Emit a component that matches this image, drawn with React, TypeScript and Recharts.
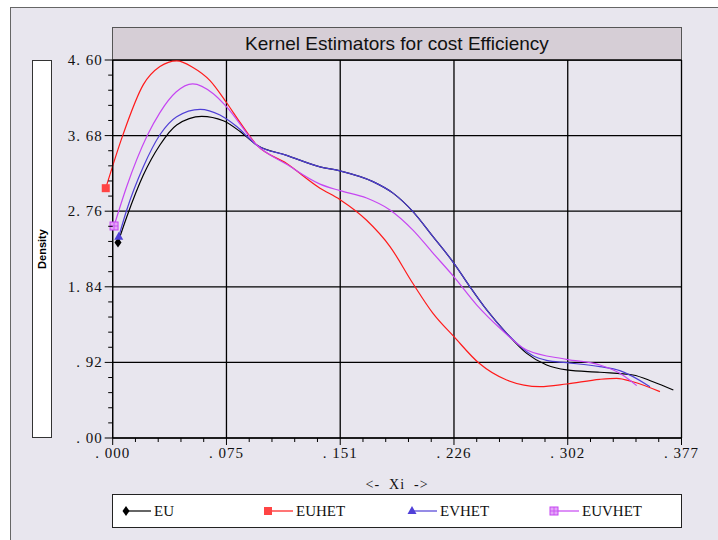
import React from 'react';
import { LineChart, Line, XAxis, YAxis, ReferenceLine } from 'recharts';

// kernel density estimates
const euX = [0.0035, 0.0093, 0.0203, 0.0313, 0.0424, 0.059, 0.0733, 0.0844, 0.0954, 0.1153, 0.1374, 0.1507, 0.1725, 0.1858, 0.199, 0.2123, 0.2262, 0.2368, 0.2479, 0.2611, 0.2744, 0.2876, 0.3009, 0.3229, 0.3448, 0.3581, 0.3716];
const euY = [2.38, 2.69, 3.2, 3.566, 3.81, 3.915, 3.86, 3.73, 3.566, 3.44, 3.3, 3.25, 3.12, 2.98, 2.755, 2.45, 2.126, 1.84, 1.558, 1.274, 1.03, 0.888, 0.828, 0.8, 0.767, 0.685, 0.584];

const euhetX = [-0.0046, 0.0066, 0.0203, 0.0313, 0.0425, 0.0532, 0.0645, 0.0755, 0.0844, 0.0954, 0.1153, 0.1374, 0.1507, 0.1683, 0.1838, 0.199, 0.2123, 0.2262, 0.2429, 0.2611, 0.2832, 0.3009, 0.3229, 0.334, 0.3448, 0.3627];
const euhetY = [3.04, 3.68, 4.3, 4.52, 4.59, 4.51, 4.35, 4.08, 3.84, 3.566, 3.34, 3.04, 2.9, 2.65, 2.33, 1.88, 1.517, 1.233, 0.909, 0.706, 0.625, 0.657, 0.714, 0.726, 0.685, 0.564];

const evhetX = [0.004, 0.0093, 0.0203, 0.0313, 0.0424, 0.058, 0.0711, 0.0822, 0.0954, 0.1153, 0.1374, 0.1507, 0.1725, 0.1858, 0.199, 0.2123, 0.2262, 0.2368, 0.2479, 0.2611, 0.2786, 0.2876, 0.3009, 0.3229, 0.3361, 0.3561];
const evhetY = [2.45, 2.775, 3.3, 3.69, 3.91, 4.0, 3.93, 3.79, 3.566, 3.44, 3.3, 3.25, 3.12, 2.98, 2.755, 2.45, 2.126, 1.84, 1.558, 1.274, 1.0, 0.945, 0.917, 0.868, 0.82, 0.625];

const euvhetX = [0.0009, 0.0093, 0.0229, 0.0313, 0.042, 0.053, 0.0667, 0.0755, 0.0954, 0.1153, 0.1374, 0.1507, 0.1683, 0.1838, 0.199, 0.2123, 0.2262, 0.2412, 0.2567, 0.2744, 0.3009, 0.3229, 0.3361, 0.3473];
const euvhetY = [2.58, 3.06, 3.68, 3.96, 4.21, 4.31, 4.19, 4.03, 3.566, 3.33, 3.09, 3.01, 2.92, 2.775, 2.53, 2.25, 1.96, 1.62, 1.335, 1.071, 0.957, 0.888, 0.787, 0.637];

const xMajor = [0, 0.0754, 0.1508, 0.2262, 0.3016, 0.377];
const xLabels = ['. 000', '. 075', '. 151', '. 226', '. 302', '. 377'];
const yMajor = [0, 0.92, 1.84, 2.76, 3.68, 4.6];
const yLabels = ['. 00', '. 92', '1. 84', '2. 76', '3. 68', '4. 60'];

const seriesNames = ['EU', 'EUHET', 'EVHET', 'EUVHET'];
const colors = ['#000000', '#ff1a1a', '#4f3fd6', '#c646f2'];

const toRows = (xs: number[], ys: number[]) => xs.map((x, i) => ({ x, y: ys[i] }));

// 4 minor ticks between each pair of majors
const withMinor = (major: number[]) => {
  const out: number[] = [];
  for (let i = 0; i < major.length - 1; i++) {
    for (let k = 0; k < 5; k++) out.push(major[i] + ((major[i + 1] - major[i]) * k) / 5);
  }
  out.push(major[major.length - 1]);
  return out;
};
const xTicks = withMinor(xMajor);
const yTicks = withMinor(yMajor);

const tickFont = { fontFamily: '"Liberation Serif", serif', fontSize: 15, letterSpacing: 1, fill: '#111' };

function Marker({ kind, cx, cy }: { kind: number; cx: number; cy: number }) {
  if (kind === 0) {
    return <polygon points={`${cx},${cy - 5} ${cx + 3.5},${cy} ${cx},${cy + 5} ${cx - 3.5},${cy}`} fill="#000" />;
  }
  if (kind === 1) {
    return <rect x={cx - 4} y={cy - 4} width={8} height={8} fill="#ff4444" />;
  }
  if (kind === 2) {
    return <polygon points={`${cx},${cy - 5} ${cx + 4.5},${cy + 3} ${cx - 4.5},${cy + 3}`} fill="#5040d8" />;
  }
  return (
    <g>
      <rect x={cx - 4} y={cy - 4} width={8} height={8} fill="#e4a6f8" stroke="#c646f2" strokeWidth={1} />
      <line x1={cx - 4} y1={cy} x2={cx + 4} y2={cy} stroke="#c646f2" strokeWidth={0.8} />
      <line x1={cx} y1={cy - 4} x2={cx} y2={cy + 4} stroke="#c646f2" strokeWidth={0.8} />
    </g>
  );
}

const firstDot = (kind: number) => (props: any) => {
  const { cx, cy, index } = props;
  if (index !== 0) return <g key={`d${kind}-${index}`} />;
  return (
    <g key={`d${kind}-${index}`}>
      <Marker kind={kind} cx={cx} cy={cy} />
    </g>
  );
};

const XTick = (props: any) => {
  const { x, y, index } = props;
  const major = index % 5 === 0;
  return (
    <g>
      <line x1={x} y1={y} x2={x} y2={y + (major ? 7 : 4)} stroke="#000" />
      {major && (
        <text x={x} y={y + 20} textAnchor="middle" {...tickFont}>
          {xLabels[index / 5]}
        </text>
      )}
    </g>
  );
};

const YTick = (props: any) => {
  const { x, y, index } = props;
  const major = index % 5 === 0;
  return (
    <g>
      <line x1={x} y1={y} x2={x - (major ? 8 : 4.5)} y2={y} stroke="#000" />
      {major && (
        <text x={x - 10} y={y + 5} textAnchor="end" {...tickFont}>
          {yLabels[index / 5]}
        </text>
      )}
    </g>
  );
};

export default function App() {
  const series = [toRows(euX, euY), toRows(euhetX, euhetY), toRows(evhetX, evhetY), toRows(euvhetX, euvhetY)];
  const legendX = [126, 268, 412, 554];

  return (
    <div style={{ position: 'absolute', left: 0, top: 0, width: 718, height: 540, overflow: 'hidden' }}>
      <style>{`.recharts-line-dots, .recharts-line-curve { clip-path: none !important; }`}</style>
      <div style={{ position: 'absolute', left: 10, top: 7, width: 720, height: 540, background: '#e8e6ee', border: '1px solid #666' }} />
      <div
        style={{
          position: 'absolute', left: 112, top: 27, width: 568, height: 32,
          background: '#d6ced6', border: '1px solid #555',
          fontFamily: '"Liberation Sans", Arial, sans-serif', fontSize: 19,
          display: 'flex', alignItems: 'center', justifyContent: 'center', color: '#111',
        }}
      >
        Kernel Estimators for cost Efficiency
      </div>
      <div style={{ position: 'absolute', left: 32, top: 60, width: 18, height: 376, background: '#fff', border: '1px solid #333' }} />
      <div
        style={{
          position: 'absolute', left: 42, top: 249, transform: 'translate(-50%, -50%) rotate(-90deg)',
          fontFamily: '"Liberation Sans", Arial, sans-serif', fontSize: 11, fontWeight: 'bold', color: '#000', whiteSpace: 'nowrap',
        }}
      >
        Density
      </div>

      <div style={{ position: 'absolute', left: 0, top: 0 }}>
        <LineChart width={718} height={540} margin={{ top: 60, right: 36.5, bottom: 72, left: 52.7 }}>
          <XAxis
            type="number"
            dataKey="x"
            domain={[0, 0.377]}
            allowDataOverflow
            ticks={xTicks}
            interval={0}
            tick={<XTick />}
            tickSize={0}
            tickMargin={0}
            tickLine={false}
            axisLine={{ stroke: '#000' }}
            height={30}
            label={{
              value: '<-\u00a0\u00a0Xi\u00a0\u00a0->',
              position: 'bottom',
              offset: 11,
              style: { ...tickFont, fontSize: 14 },
            }}
          />
          <YAxis
            type="number"
            dataKey="y"
            domain={[0, 4.6]}
            allowDataOverflow
            ticks={yTicks}
            interval={0}
            tick={<YTick />}
            tickSize={0}
            tickMargin={0}
            tickLine={false}
            axisLine={{ stroke: '#000' }}
            width={60}
          />
          {yMajor.map((v) => (
            <ReferenceLine key={`h${v}`} y={v} stroke="#000" strokeWidth={1.3} />
          ))}
          {xMajor.map((v) => (
            <ReferenceLine key={`v${v}`} x={v} stroke="#000" strokeWidth={1.3} />
          ))}
          {series.map((rows, i) => (
            <Line
              key={seriesNames[i]}
              data={rows}
              dataKey="y"
              name={seriesNames[i]}
              type="monotone"
              stroke={colors[i]}
              strokeWidth={1.2}
              dot={firstDot(i)}
              activeDot={false}
              isAnimationActive={false}
            />
          ))}
        </LineChart>
      </div>

      <div
        style={{
          position: 'absolute', left: 112, top: 494, width: 568, height: 32,
          background: '#fff', border: '1px solid #222',
        }}
      >
        <svg width={568} height={32} style={{ position: 'absolute', left: 0, top: 0 }}>
          {seriesNames.map((name, i) => {
            const mx = legendX[i] - 113;
            return (
              <g key={name}>
                <line x1={mx} y1={16} x2={mx + 25} y2={16} stroke={colors[i]} strokeWidth={1.2} />
                <Marker kind={i} cx={mx} cy={16} />
                <text x={mx + 28} y={21} fontFamily='"Liberation Serif", serif' fontSize={15} fill="#111">
                  {name}
                </text>
              </g>
            );
          })}
        </svg>
      </div>
    </div>
  );
}
